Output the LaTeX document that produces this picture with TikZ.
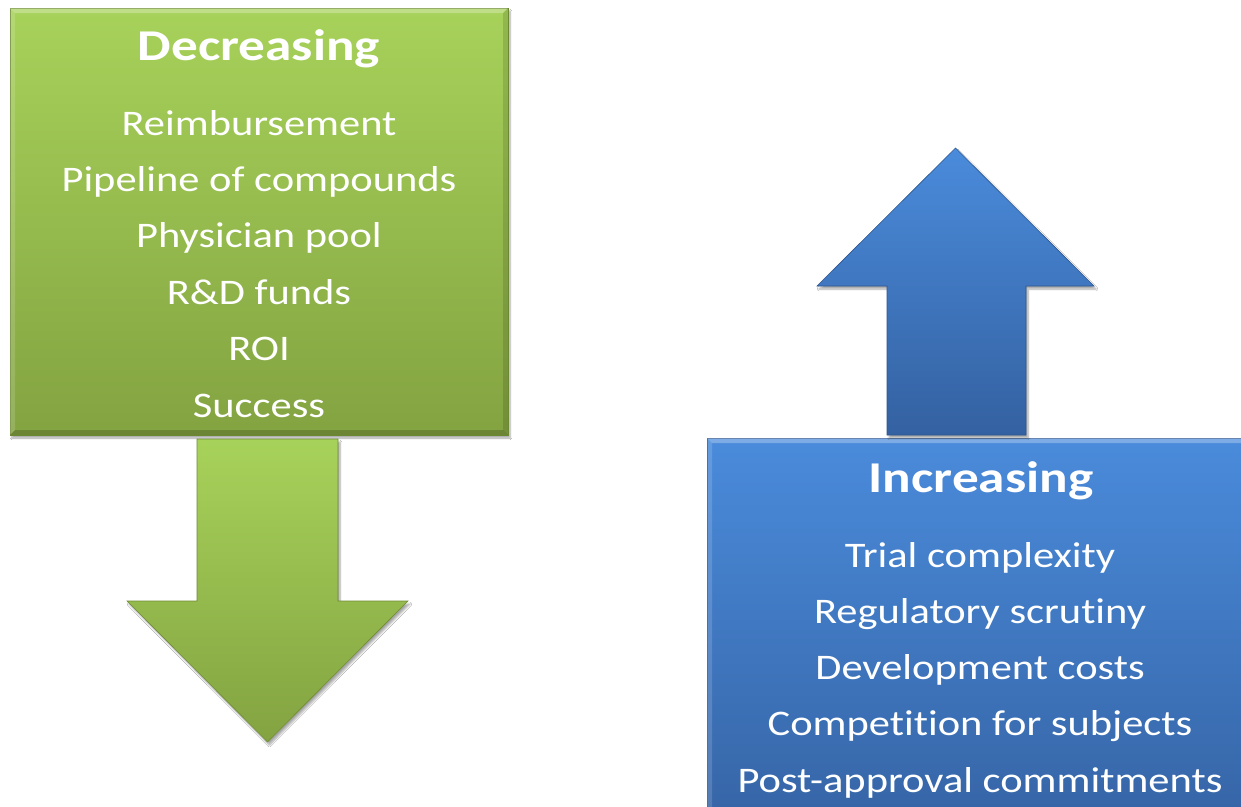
\documentclass[tikz,border=0pt]{standalone}
\usepackage{fontspec}
\setmainfont{Carlito}[Ligatures=NoCommon,UprightFeatures={FakeStretch=1.18},BoldFeatures={FakeStretch=1.21}]
\usetikzlibrary{shadows.blur,calc}
\definecolor{gtop}{HTML}{A7D25A}
\definecolor{gbot}{HTML}{83A341}
\definecolor{gline}{HTML}{6E8C33}
\definecolor{btop}{HTML}{4A8BDB}
\definecolor{bbot}{HTML}{3461A1}
\definecolor{bline}{HTML}{2D5791}
\begin{document}
\begin{tikzpicture}[x=1pt,y=1pt,
  shade/.style={blur shadow={shadow xshift=2pt,shadow yshift=-3pt,shadow blur steps=6,shadow opacity=35}},
  gpanel/.style={shade,inner sep=0,outer sep=0,top color=gtop,bottom color=gbot,draw=gline,line width=0.8pt},
  bpanel/.style={shade,inner sep=0,outer sep=0,top color=btop,bottom color=bbot,draw=bline,line width=0.8pt},
  garrow/.style={shade,top color=gtop,bottom color=gbot,draw=gline,line width=0.6pt,line join=miter},
  barrow/.style={shade,top color=btop,bottom color=bbot,draw=bline,line width=0.6pt,line join=miter},
  titletext/.style={text=white,anchor=base,inner sep=0,font=\fontsize{44}{50}\selectfont\bfseries},
  itemtext/.style={text=white,anchor=base,inner sep=0,font=\fontsize{36}{42}\selectfont},
  hi/.style={fill=white,fill opacity=#1,draw=none},
  lo/.style={fill=black,fill opacity=#1,draw=none}
]
\clip (0,0) rectangle (1241,-806);
\fill[white] (0,0) rectangle (1241,-806);

% left panel
\node[gpanel,minimum width=498,minimum height=427,anchor=north west] (dbox) at (10,-8) {};
% right panel
\node[bpanel,minimum width=600,minimum height=420,anchor=north west] (ibox) at (707,-438) {};

% bevel bands
\foreach \b in {dbox,ibox}{
  \path[hi=0.28] (\b.north west) -- (\b.north east) -- ($(\b.north east)+(-5,-5)$) -- ($(\b.north west)+(5,-5)$) -- cycle;
  \path[hi=0.15] (\b.north west) -- ($(\b.north west)+(5,-5)$) -- ($(\b.south west)+(5,5)$) -- (\b.south west) -- cycle;
  \path[lo=0.18] (\b.south west) -- ($(\b.south west)+(5,5)$) -- ($(\b.south east)+(-5,5)$) -- (\b.south east) -- cycle;
  \path[lo=0.12] (\b.north east) -- ($(\b.north east)+(-5,-5)$) -- ($(\b.south east)+(-5,5)$) -- (\b.south east) -- cycle;
}

% arrows
\path[garrow] (197,-439) -- (338,-439) -- (338,-601) -- (408,-601) -- (267.5,-742) -- (127,-601) -- (197,-601) -- cycle;
\path[barrow] (887,-435) -- (1026,-435) -- (1026,-286) -- (1094,-286) -- (955.5,-148) -- (817,-286) -- (887,-286) -- cycle;

% texts
\node[titletext] (dtitle) at (259,-60) {Decreasing};
\foreach \i/\t in {1/Reimbursement,2/Pipeline of compounds,3/Physician pool,4/{R\&D funds},5/ROI,6/Success}{
  \node[itemtext] (d\i) at (259,{-135-56.4*(\i-1)}) {\t};
}
\node[titletext] (ititle) at (981,-492) {Increasing};
\foreach \i/\t in {1/Trial complexity,2/Regulatory scrutiny,3/Development costs,4/Competition for subjects,5/Post-approval commitments}{
  \node[itemtext] (i\i) at (980,{-567-56.25*(\i-1)}) {\t};
}
\end{tikzpicture}
\end{document}
